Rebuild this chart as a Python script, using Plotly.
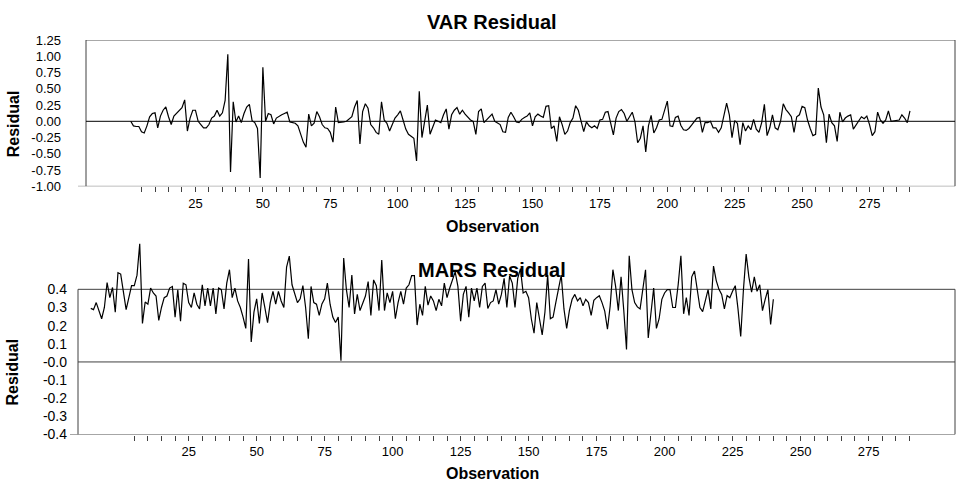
import plotly.graph_objects as go

# ---------------- data ----------------
VAR_OBS = list(range(1, 291))
VAR_RESIDUAL = [
    0.00, -0.07, -0.08, -0.08, -0.16, -0.18, -0.07, 0.07, 0.12, 0.13,
    -0.10, 0.08, 0.17, 0.22, 0.07, -0.05, 0.08, 0.12, 0.17, 0.21,
    0.33, -0.15, 0.05, 0.17, 0.17, 0.00, -0.05, -0.10, -0.10, -0.05,
    0.05, 0.08, 0.17, 0.08, 0.13, 0.32, 1.03, -0.78, 0.30, -0.01,
    0.08, -0.02, 0.12, 0.22, 0.26, 0.01, -0.02, -0.11, -0.87, 0.83,
    0.00, 0.12, 0.10, -0.04, 0.05, 0.08, 0.10, 0.12, 0.14, -0.01,
    -0.02, -0.03, -0.07, -0.20, -0.32, -0.40, 0.11, -0.07, -0.03, 0.15,
    0.07, -0.05,
    -0.10, -0.11, -0.17, -0.32, 0.22, -0.02, -0.02, -0.01, 0.00, 0.03,
    0.07, 0.22, 0.32, -0.35, 0.15, 0.27, 0.20, -0.05, -0.10, -0.17,
    -0.20, 0.30, 0.02, -0.03, -0.15, -0.05, 0.05, 0.10, 0.16, 0.02,
    -0.12, -0.20, -0.23, -0.26, -0.61, 0.46, -0.25, 0.00, 0.25, -0.20,
    -0.10, 0.02, 0.00, -0.02, 0.10, 0.19, -0.12, 0.10, 0.17, 0.21,
    0.11, 0.17, 0.11, 0.07, 0.02, 0.00, -0.20, 0.15, 0.19, -0.02,
    0.02, 0.06, 0.11, 0.00, -0.03, -0.05, -0.16, -0.17, 0.06, 0.14,
    0.07, -0.01, -0.02,
    0.03, 0.06, 0.08, 0.13, -0.07, 0.07, 0.11, 0.08, 0.06, 0.23,
    0.24, -0.11, -0.07, -0.31, 0.07, -0.05, -0.20, -0.15, -0.02, 0.05,
    0.24, 0.17, -0.02, -0.16, -0.01, -0.07, -0.10, -0.07, -0.11, 0.02,
    0.03, 0.14, 0.15, -0.02, -0.21, 0.05, 0.15, 0.18, 0.12, 0.00,
    0.06, 0.14, -0.01, -0.33, -0.26, -0.07, -0.47, -0.07, 0.09, -0.18,
    -0.10, 0.02, 0.03, 0.17, 0.31, -0.07, -0.08, 0.06, 0.08, -0.06,
    -0.13, -0.14, -0.11, -0.06, -0.01, 0.05, 0.06, -0.17, -0.02, -0.02,
    0.00, -0.10, -0.10,
    -0.17, -0.10, 0.12, 0.28, 0.10, -0.25, 0.01, -0.03, -0.36, -0.02,
    -0.15, -0.07, -0.13, 0.03, -0.12, -0.17, -0.02, 0.26, -0.22, -0.10,
    0.10, -0.10, -0.13, 0.00, 0.27, 0.18, 0.13, 0.07, -0.17, 0.07,
    0.10, 0.23, 0.21, 0.02, -0.11, -0.22, -0.20, 0.51, 0.22, 0.10,
    -0.33, 0.11, -0.02, -0.07, -0.31, 0.14, -0.01, 0.05, 0.08, 0.10,
    -0.12, -0.06, 0.01, 0.07, 0.04, 0.08, -0.05, -0.22, -0.16, 0.14,
    0.02, -0.03, 0.02, 0.16, 0.00, 0.01, 0.01, 0.02, 0.10, 0.05,
    -0.02, 0.16,
]

MARS_OBS = list(range(-11, 241))
MARS_RESIDUAL = [
    0.295, 0.288, 0.327, 0.28, 0.238, 0.300, 0.437, 0.354, 0.41, 0.274,
    0.492, 0.484, 0.38, 0.288, 0.354, 0.420, 0.420, 0.478, 0.651, 0.212,
    0.33, 0.318, 0.407, 0.380, 0.363, 0.229, 0.300, 0.354, 0.363, 0.407,
    0.416, 0.247, 0.398, 0.224, 0.434, 0.425, 0.327, 0.300, 0.380, 0.318,
    0.292, 0.425, 0.309, 0.407, 0.309, 0.407, 0.265, 0.407, 0.398, 0.292,
    0.434, 0.508, 0.354, 0.407, 0.336, 0.300, 0.247, 0.185, 0.567, 0.110,
    0.274, 0.348, 0.212, 0.380, 0.30, 0.217, 0.327, 0.389, 0.318, 0.389,
    0.336, 0.300, 0.523, 0.583, 0.425, 0.380, 0.327, 0.348, 0.420, 0.300,
    0.128, 0.416, 0.327, 0.318, 0.256, 0.320, 0.348, 0.434, 0.318, 0.247,
    0.217, 0.247, 0.007, 0.572, 0.398, 0.300, 0.478, 0.265, 0.372, 0.283,
    0.32, 0.363, 0.443, 0.256, 0.452, 0.42, 0.283, 0.562, 0.283, 0.380,
    0.327, 0.389, 0.238, 0.327, 0.389, 0.318, 0.407, 0.425, 0.475, 0.475,
    0.203, 0.318, 0.256, 0.416, 0.313, 0.363, 0.336, 0.283, 0.345, 0.309,
    0.434, 0.354, 0.407, 0.452, 0.496, 0.416, 0.224, 0.372, 0.416, 0.247,
    0.407, 0.336, 0.407, 0.300, 0.416, 0.434, 0.295, 0.327, 0.336, 0.398,
    0.318, 0.372, 0.460, 0.300, 0.473, 0.434, 0.300, 0.460, 0.514, 0.380,
    0.389, 0.354, 0.238, 0.158, 0.327, 0.238, 0.149, 0.274, 0.478, 0.238,
    0.247, 0.327, 0.398, 0.478, 0.292, 0.185, 0.283, 0.345, 0.372, 0.336,
    0.354, 0.309, 0.345, 0.327, 0.256, 0.340, 0.354, 0.365, 0.327, 0.28,
    0.180, 0.309, 0.508, 0.416, 0.283, 0.469, 0.283, 0.069, 0.585, 0.398,
    0.327, 0.303, 0.292, 0.40, 0.508, 0.132, 0.274, 0.407, 0.185, 0.238,
    0.345, 0.380, 0.398, 0.398, 0.300, 0.300, 0.425, 0.585, 0.265, 0.354,
    0.256, 0.469, 0.501, 0.389, 0.300, 0.277, 0.345, 0.398, 0.292, 0.528,
    0.448, 0.40, 0.372, 0.292, 0.366, 0.354, 0.389, 0.420, 0.292, 0.140,
    0.398, 0.594, 0.469, 0.384, 0.469, 0.389, 0.425, 0.283, 0.345, 0.398,
    0.206, 0.345,
]

X_TICKS = list(range(5, 291, 5))
X_TICK_LABELS = [str(v) if v % 25 == 0 else "" for v in X_TICKS]
VAR_Y_TICKS = [-1.0, -0.75, -0.5, -0.25, 0.0, 0.25, 0.5, 0.75, 1.0, 1.25]
VAR_Y_LABELS = ["-1.00", "-0.75", "-0.50", "-0.25", "0.00", "0.25", "0.50", "0.75", "1.00", "1.25"]
MARS_Y_TICKS = [-0.4, -0.3, -0.2, -0.1, 0.0, 0.1, 0.2, 0.3, 0.4]
MARS_Y_LABELS = ["-0.4", "-0.3", "-0.2", "-0.1", "-0.0", "0.1", "0.2", "0.3", "0.4"]

# ---------------- layout helpers ----------------
W, H = 961, 493
FONT = "Liberation Sans, Arial, sans-serif"
FRAME = "#404040"


def px(x):
    return x / W


def py(y):
    return 1 - y / H


X_RANGE_TOP = [-15.6, 306.7]
X_RANGE_BOT = [-15.7, 306.8]

fig = go.Figure()
fig.add_trace(go.Scatter(x=VAR_OBS, y=VAR_RESIDUAL, mode="lines",
                         line=dict(color="black", width=1.2),
                         xaxis="x", yaxis="y", hoverinfo="skip"))
fig.add_trace(go.Scatter(x=MARS_OBS, y=MARS_RESIDUAL, mode="lines",
                         line=dict(color="black", width=1.2),
                         xaxis="x2", yaxis="y2", hoverinfo="skip"))

tickfont = dict(family=FONT, size=13, color="black")
tickfont_b = dict(family=FONT, size=14, color="black")
xcommon = dict(tickmode="array", tickvals=X_TICKS, ticktext=X_TICK_LABELS,
               ticks="outside", ticklen=5, tickwidth=1, tickcolor=FRAME,
               showgrid=False, zeroline=False, showline=False)

fig.update_layout(
    width=W, height=H, margin=dict(l=0, r=0, t=0, b=0),
    paper_bgcolor="white", plot_bgcolor="white", showlegend=False,
    xaxis=dict(domain=[px(86), px(955)], range=X_RANGE_TOP, anchor="y",
               tickfont=tickfont, **xcommon),
    yaxis=dict(domain=[py(185), py(34)], range=[-1.0, 1.25], anchor="x",
               tickmode="array", tickvals=VAR_Y_TICKS, ticktext=VAR_Y_LABELS,
               ticks="", showgrid=False, zeroline=False, showline=False,
               tickfont=tickfont, ticklabelstandoff=24),
    xaxis2=dict(domain=[px(78), px(955)], range=X_RANGE_BOT, anchor="y2",
                tickfont=tickfont, **xcommon),
    yaxis2=dict(domain=[py(441), py(235)], range=[-0.4, 0.7], anchor="x2",
                tickmode="array", tickvals=MARS_Y_TICKS, ticktext=MARS_Y_LABELS,
                ticks="", showgrid=False, zeroline=False, showline=False,
                tickfont=tickfont_b, ticklabelstandoff=10),
)

shapes = [
    # top frame
    dict(type="rect", xref="x domain", yref="y", x0=0, x1=1, y0=-1.0, y1=1.25,
         line=dict(color=FRAME, width=1), layer="below"),
    dict(type="line", xref="paper", yref="y", x0=px(78), x1=px(86), y0=-1.0, y1=-1.0,
         line=dict(color=FRAME, width=1)),
    dict(type="line", xref="x domain", yref="y", x0=0, x1=1, y0=0, y1=0,
         line=dict(color="black", width=1), layer="below"),
    # bottom frame
    dict(type="rect", xref="x2 domain", yref="y2", x0=0, x1=1, y0=-0.4, y1=0.4,
         line=dict(color=FRAME, width=1), layer="below"),
    dict(type="line", xref="paper", yref="y2", x0=px(70), x1=px(78), y0=-0.4, y1=-0.4,
         line=dict(color=FRAME, width=1)),
    dict(type="line", xref="x2 domain", yref="y2", x0=0, x1=1, y0=0, y1=0,
         line=dict(color=FRAME, width=1), layer="below"),
]
fig.update_layout(shapes=shapes)

bold = lambda s: "<b>" + s + "</b>"
ann = [
    dict(text=bold("VAR Residual"), x=px(492), y=py(15), size=20, angle=0),
    dict(text=bold("Observation"), x=px(492), y=py(226), size=16, angle=0),
    dict(text=bold("MARS Residual"), x=px(492), y=py(271), size=20, angle=0),
    dict(text=bold("Observation"), x=px(492), y=py(481), size=16, angle=0),
    dict(text=bold("Residual"), x=px(13), y=py(121), size=16, angle=-90),
    dict(text=bold("Residual"), x=px(13), y=py(377), size=16, angle=-90),
]
fig.update_layout(annotations=[
    dict(text=a["text"], x=a["x"], y=a["y"], xref="paper", yref="paper",
         xanchor="center", yanchor="middle", showarrow=False, textangle=a["angle"],
         font=dict(family=FONT, size=a["size"], color="black"))
    for a in ann
])

fig.write_html("out.html")
